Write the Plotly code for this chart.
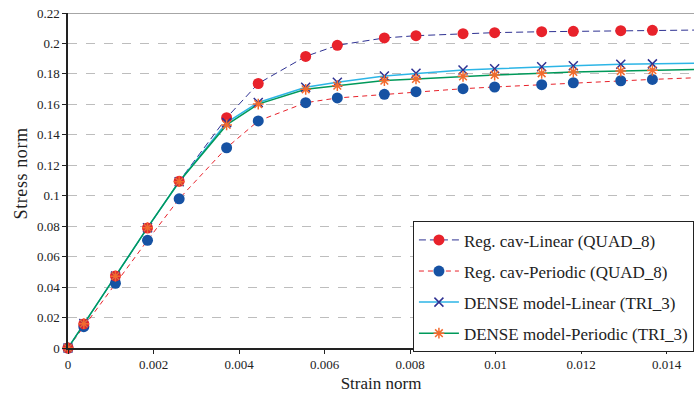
import plotly.graph_objects as go

# Strain values at the sampled load steps
strain = [0, 0.00037, 0.00111, 0.00186, 0.0026, 0.00371, 0.00445, 0.00556, 0.0063,
          0.0074, 0.00814, 0.00924, 0.00998, 0.01108, 0.01182, 0.01293, 0.01367]
# Curves continue to the end of the loading range without markers
strain_end = 0.0147

reg_linear = [0, 0.0158, 0.0473, 0.0788, 0.1095, 0.1512, 0.1737, 0.1915, 0.1988,
              0.2036, 0.2051, 0.2064, 0.2071, 0.2077, 0.2080, 0.2084, 0.2086]
reg_linear_end = 0.2088

reg_periodic = [0, 0.0140, 0.0425, 0.0707, 0.0980, 0.1315, 0.1491, 0.1611, 0.1642,
                0.1666, 0.1683, 0.1703, 0.1714, 0.1729, 0.1742, 0.1755, 0.1764]
reg_periodic_end = 0.1775

dense_linear = [0, 0.0160, 0.0472, 0.0790, 0.1092, 0.1480, 0.1612, 0.1712, 0.1745,
                0.1786, 0.1804, 0.1826, 0.1834, 0.1847, 0.1854, 0.1863, 0.1866]
dense_linear_end = 0.1871

dense_periodic = [0, 0.0160, 0.0472, 0.0790, 0.1092, 0.1465, 0.1602, 0.1699, 0.1723,
                  0.1756, 0.1767, 0.1784, 0.1793, 0.1804, 0.1813, 0.1819, 0.1824]
dense_periodic_end = 0.1830

y_ticks = [0, 0.02, 0.04, 0.06, 0.08, 0.1, 0.12, 0.14, 0.16, 0.18, 0.2, 0.22]
y_tick_text = ["0", "0.02", "0.04", "0.06", "0.08", "0.1", "0.12", "0.14", "0.16", "0.18", "0.2", "0.22"]
x_ticks = [0, 0.002, 0.004, 0.006, 0.008, 0.01, 0.012, 0.014]
x_tick_text = ["0", "0.002", "0.004", "0.006", "0.008", "0.01", "0.012", "0.014"]

names = ["Reg. cav-Linear (QUAD_8)", "Reg. cav-Periodic (QUAD_8)",
         "DENSE model-Linear (TRI_3)", "DENSE model-Periodic (TRI_3)"]

RED = "#e8222b"
BLUE = "#1652a3"
NAVY = "#2e3192"
SKY = "#2cb5e6"
GREEN = "#00995a"
ORANGE = "#f26a2e"

styles = {
    names[0]: dict(line=dict(color=NAVY, width=1, dash="7px,4px"),
                   marker=dict(symbol="circle", size=11, color=RED)),
    names[1]: dict(line=dict(color=RED, width=1, dash="5px,4px"),
                   marker=dict(symbol="circle", size=11, color=BLUE)),
    names[2]: dict(line=dict(color=SKY, width=1.5),
                   marker=dict(symbol="x-thin", size=9, color=NAVY, line=dict(color=NAVY, width=1.5))),
    names[3]: dict(line=dict(color=GREEN, width=1.5),
                   marker=dict(symbol="asterisk", size=9, color=ORANGE, line=dict(color=ORANGE, width=1.5))),
}
series = {
    names[0]: (reg_linear, reg_linear_end),
    names[1]: (reg_periodic, reg_periodic_end),
    names[2]: (dense_linear, dense_linear_end),
    names[3]: (dense_periodic, dense_periodic_end),
}

fig = go.Figure()

draw_order = [names[1], names[0], names[2], names[3]]
for name in draw_order:
    vals, end = series[name]
    st = styles[name]
    fig.add_trace(go.Scatter(x=strain + [strain_end], y=vals + [end], mode="lines",
                             line=st["line"], showlegend=False, hoverinfo="skip", cliponaxis=True))
for name in draw_order:
    vals, end = series[name]
    st = styles[name]
    fig.add_trace(go.Scatter(x=strain, y=vals, mode="markers", marker=st["marker"],
                             showlegend=False, cliponaxis=False, name=name))

# Legend entries
for i, name in enumerate(names):
    st = styles[name]
    fig.add_trace(go.Scatter(x=[None], y=[None], mode="lines+markers", name=name,
                             line=st["line"], marker=st["marker"], legendgroup=f"g{i}"))

fig.add_shape(type="line", xref="paper", yref="y", x0=0, x1=1, y0=0.22, y1=0.22,
              line=dict(color="#a6a6a6", width=2), layer="below")

serif = "Liberation Serif"

# Vertical axis title
fig.add_annotation(text="Stress norm", xref="paper", yref="paper", x=-0.075, y=0.522,
                   textangle=-90, showarrow=False, xanchor="center", yanchor="middle",
                   font=dict(family=serif, size=18, color="#222222"))

fig.update_layout(
    width=694, height=394,
    margin=dict(l=68, r=0, t=13, b=46),
    paper_bgcolor="white", plot_bgcolor="white",
    font=dict(family=serif, size=13, color="#222222"),
    showlegend=True,
    legend=dict(x=0.551, y=0.378, xanchor="left", yanchor="top",
                bgcolor="white", bordercolor="#222222", borderwidth=1,
                font=dict(family=serif, size=17, color="#222222"),
                traceorder="grouped", tracegroupgap=6, itemwidth=40),
    xaxis=dict(range=[0, 0.014643], tickvals=x_ticks, ticktext=x_tick_text,
               showgrid=False, zeroline=False, showline=True, linecolor="#222222", linewidth=1.5,
               ticks="outside", ticklen=4, tickcolor="#222222",
               tickfont=dict(family=serif, size=13),
               title=dict(text="Strain norm", font=dict(family=serif, size=17), standoff=6)),
    yaxis=dict(range=[0, 0.22], tickvals=y_ticks, ticktext=y_tick_text,
               showgrid=True, gridcolor="#bdbdbd", gridwidth=1, griddash="dash",
               zeroline=False, showline=True, linecolor="#222222", linewidth=1.5,
               ticks="outside", ticklen=4, tickcolor="#222222",
               tickfont=dict(family=serif, size=13)),
)

# Slightly wider tracking on the vertical title
spacing_js = """
var gd = document.getElementById('{plot_id}');
var ann = gd.querySelectorAll('.annotation-text');
ann.forEach(function (t) { t.style.letterSpacing = '0.6px'; });
"""

fig.write_html("out.html", post_script=spacing_js)
